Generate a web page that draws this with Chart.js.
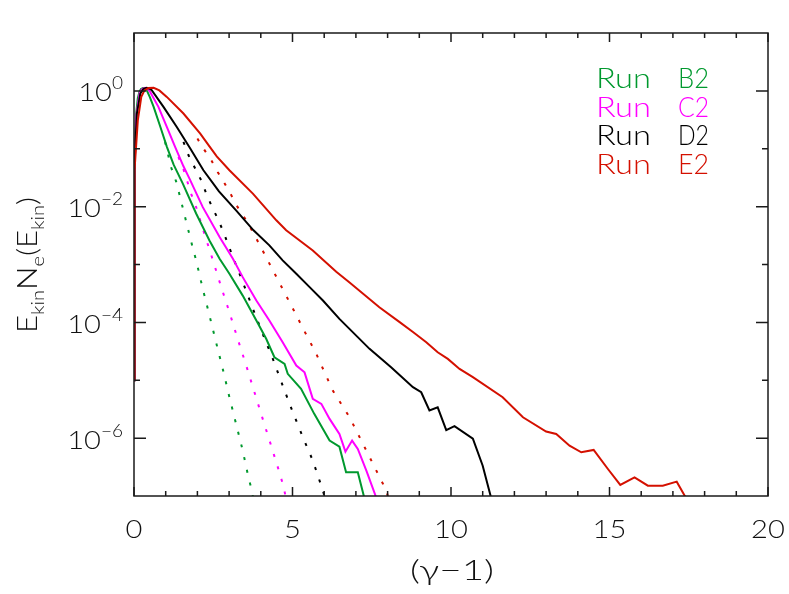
<!DOCTYPE html>
<html><head><meta charset="utf-8">
<script src="https://cdn.jsdelivr.net/npm/chart.js@4"></script>
<style>html,body{margin:0;padding:0;background:#fff;}#wrap{width:789px;height:594px;}</style>
</head><body><div id="wrap"><canvas id="c" width="789" height="594"></canvas></div>
<script>
// ---- data (x = gamma-1, y = E_kin N_e(E_kin)) ----
const runB2 = [[0,1e-5],[0.015,0.07],[0.07,0.41],[0.12,0.75],[0.17,0.96],[0.22,1.08],[0.28,1.12],[0.34,1.09],[0.40,1.03],[0.50,0.78],[0.62,0.53],[0.83,0.24],[1.04,0.107],[1.25,0.053],[1.54,0.025],[1.96,7.6e-3],[2.38,2.6e-3],[2.70,1.26e-3],[3.01,6.9e-4],[3.43,2.9e-4],[3.86,1.08e-4],[4.17,5.2e-5],[4.43,2.5e-5],[4.75,1.92e-5],[4.85,1.29e-5],[5.27,7.1e-6],[5.69,2.6e-6],[6.17,9.1e-7],[6.48,7.1e-7],[6.69,2.56e-7],[7.06,2.56e-7],[7.25,1.0e-7],[7.31,5e-8]];
const runC2 = [[0,1e-5],[0.015,0.06],[0.08,0.4],[0.18,0.92],[0.26,1.08],[0.35,1.13],[0.43,1.08],[0.51,0.96],[0.77,0.53],[1.035,0.238],[1.30,0.107],[1.56,0.0498],[1.75,0.0305],[2.17,9.8e-3],[2.70,2.98e-3],[3.12,1.26e-3],[3.43,6.05e-4],[3.86,2.39e-4],[4.27,1.08e-4],[4.69,4.54e-5],[5.12,1.8e-5],[5.38,1.37e-5],[5.64,4.77e-6],[5.91,3.91e-6],[6.17,2.15e-6],[6.48,1.18e-6],[6.67,5.84e-7],[6.88,9.06e-7],[7.06,6.5e-7],[7.33,2.74e-7],[7.62,1.01e-7],[7.68,6.8e-8]];
const runD2 = [[0,1e-5],[0.015,0.05],[0.09,0.4],[0.2,0.9],[0.30,1.08],[0.40,1.13],[0.48,1.1],[0.56,1.03],[0.93,0.529],[1.35,0.238],[1.77,0.102],[2.19,0.0425],[2.68,0.0184],[3.22,8.6e-3],[3.77,3.9e-3],[4.27,2.14e-3],[4.69,1.18e-3],[5.12,6.9e-4],[5.54,4.07e-4],[5.96,2.39e-4],[6.48,1.15e-4],[7.43,3.49e-5],[8.11,1.68e-5],[8.80,7.6e-6],[9.06,6.2e-6],[9.32,3.0e-6],[9.58,3.4e-6],[9.85,1.37e-6],[10.11,1.61e-6],[10.69,9.8e-7],[11.00,3.34e-7],[11.25,1.0e-7],[11.31,6.8e-8]];
const runE2 = [[0,1e-5],[0.016,0.042],[0.12,0.31],[0.23,0.79],[0.33,1.02],[0.45,1.12],[0.62,1.13],[0.80,1.02],[1.035,0.787],[1.56,0.406],[2.09,0.183],[2.38,0.11],[2.61,0.074],[3.01,0.0425],[3.75,0.0168],[4.49,5.8e-3],[4.80,3.9e-3],[5.64,1.75e-3],[6.38,7.5e-4],[6.80,4.9e-4],[7.74,1.83e-4],[8.38,1.01e-4],[8.80,6.8e-5],[9.22,4.54e-5],[9.58,3.05e-5],[9.90,2.34e-5],[10.27,1.57e-5],[10.69,1.13e-5],[11.63,5.08e-6],[12.27,2.29e-6],[13.00,1.30e-6],[13.32,1.18e-6],[13.74,7.4e-7],[14.11,5.7e-7],[14.50,6.25e-7],[14.95,2.93e-7],[15.34,1.55e-7],[15.79,2.10e-7],[16.21,1.51e-7],[16.68,1.51e-7],[17.12,1.77e-7],[17.40,9.5e-8],[17.46,6.8e-8]];
const fitB2 = [[0.98,0.131],[1.17,0.048],[1.33,0.027],[1.44,0.0157],[1.65,5.4e-3],[1.86,1.88e-3],[1.96,1.18e-3],[2.17,3.8e-4],[2.38,1.32e-4],[2.59,4.5e-5],[2.80,1.57e-5],[3.01,5.1e-6],[3.22,1.76e-6],[3.43,6.1e-7],[3.61,2.1e-7],[3.72,1.24e-7],[3.79,7e-8]];
const fitC2 = [[1.40,0.072],[1.54,0.048],[1.67,0.0285],[1.80,0.0168],[1.96,9.8e-3],[2.22,3.4e-3],[2.49,1.18e-3],[2.75,4.1e-4],[3.01,1.5e-4],[3.27,5.2e-5],[3.54,1.8e-5],[3.80,6.2e-6],[4.06,2.15e-6],[4.31,7.9e-7],[4.57,2.74e-7],[4.71,1.51e-7],[4.84,7e-8]];
const fitD2 = [[1.56,0.131],[1.72,0.077],[1.91,0.048],[2.12,0.0285],[2.28,0.0168],[2.44,0.0105],[2.64,6.2e-3],[2.80,3.9e-3],[2.96,2.3e-3],[3.12,1.34e-3],[3.43,5.0e-4],[3.75,1.72e-4],[4.06,6.35e-5],[4.38,2.34e-5],[4.69,8.1e-6],[5.01,2.8e-6],[5.33,1.03e-6],[5.64,4.1e-7],[5.96,1.24e-7],[6.08,7e-8]];
const fitE2 = [[2.0,0.15],[2.19,0.101],[2.44,0.0632],[2.64,0.0397],[2.86,0.025],[3.07,0.0157],[3.27,9.8e-3],[3.54,5.8e-3],[3.75,3.64e-3],[4.17,1.33e-3],[4.59,4.8e-4],[5.01,1.74e-4],[5.38,7.0e-5],[5.75,2.86e-5],[6.27,6.64e-6],[6.80,2.29e-6],[7.33,6.08e-7],[7.96,1.24e-7],[8.08,7e-8]];

const runNames = ['Run', 'Run', 'Run', 'Run'];
const runCodes = ['B2', 'C2', 'D2', 'E2'];
const runColors = ['#00992e', '#ff00ff', '#000000', '#d41000'];

const xMajorTicks = [0, 5, 10, 15, 20];
const xMinorTicks = [1,2,3,4,6,7,8,9,11,12,13,14,16,17,18,19];
const yLabelExps = [0, -2, -4, -6];
const yMinorExps = [-1, -3, -5];
const xTitle = '(\u03b3\u22121)';

const FONT = '"Lato","DejaVu Sans",sans-serif';
const toPts = a => a.map(p => ({x: p[0], y: p[1]}));

const solids = [runB2, runC2, runD2, runE2];
const fits = [fitB2, fitC2, fitD2, fitE2];
const datasets = [];
solids.forEach((d, i) => datasets.push({
  label: runNames[i] + ' ' + runCodes[i], data: toPts(d), borderColor: runColors[i],
  borderWidth: 2, pointRadius: 0, tension: 0, fill: false, clip: 0, order: 4 - i
}));
fits.forEach((d, i) => datasets.push({
  label: 'fit ' + runCodes[i], data: toPts(d), borderColor: runColors[i],
  borderWidth: 2, borderDash: [3, 10], pointRadius: 0, tension: 0, fill: false, clip: 0, order: 10
}));

function drawParts(ctx, parts, x, y) {
  let cx = x;
  parts.forEach(p => {
    ctx.font = '300 ' + p[1] + 'px ' + FONT;
    ctx.fillText(p[0], cx, y + p[2]);
    cx += ctx.measureText(p[0]).width;
  });
  return cx - x;
}
function measureParts(ctx, parts) {
  let w = 0;
  parts.forEach(p => { ctx.font = '300 ' + p[1] + 'px ' + FONT; w += ctx.measureText(p[0]).width; });
  return w;
}
function fitText(ctx, t, x, y, w) {
  const m = ctx.measureText(t).width;
  ctx.save(); ctx.translate(x, y); ctx.scale(w / m, 1); ctx.fillText(t, 0, 0); ctx.restore();
}

const framePlugin = {
  id: 'frame',
  afterDatasetsDraw(chart) {
    const {ctx, chartArea: a, scales: {x, y}} = chart;
    ctx.save();
    ctx.strokeStyle = '#1a1a1a';
    ctx.lineWidth = 1.5;
    ctx.strokeRect(a.left, a.top, a.right - a.left, a.bottom - a.top);
    ctx.beginPath();
    const xt = (v, len) => { const p = x.getPixelForValue(v);
      ctx.moveTo(p, a.bottom); ctx.lineTo(p, a.bottom - len);
      ctx.moveTo(p, a.top); ctx.lineTo(p, a.top + len); };
    xMajorTicks.forEach(v => xt(v, 9));
    xMinorTicks.forEach(v => xt(v, 5));
    const yt = (e, len) => { const p = y.getPixelForValue(Math.pow(10, e));
      ctx.moveTo(a.left, p); ctx.lineTo(a.left + len, p);
      ctx.moveTo(a.right, p); ctx.lineTo(a.right - len, p); };
    yLabelExps.forEach(e => yt(e, 12));
    yMinorExps.forEach(e => yt(e, 6));
    ctx.stroke();

    ctx.fillStyle = '#111';
    ctx.textBaseline = 'alphabetic';
    // x tick labels
    ctx.textAlign = 'center';
    ctx.font = '300 26px ' + FONT;
    xMajorTicks.forEach(v => {
      ctx.save();
      ctx.translate(x.getPixelForValue(v), 538);
      ctx.scale(1.12, 1);
      ctx.fillText(String(v), 0, 0);
      ctx.restore();
    });
    // y tick labels 10^e
    ctx.textAlign = 'left';
    yLabelExps.forEach(e => {
      const p = y.getPixelForValue(Math.pow(10, e));
      const expT = e === 0 ? '0' : '\u2212' + Math.abs(e);
      const parts = [['10', 26, 0], [expT, 17, -12]];
      const w = measureParts(ctx, parts) * 1.12;
      ctx.save();
      ctx.translate(123 - w, p + 10.5);
      ctx.scale(1.12, 1);
      drawParts(ctx, parts, 0, 0);
      ctx.restore();
    });
    // x title
    ctx.save();
    ctx.font = '300 28px ' + FONT;
    const xw = ctx.measureText(xTitle).width;
    ctx.translate(452, 580);
    ctx.scale(84 / xw, 1);
    ctx.textAlign = 'center';
    ctx.fillText(xTitle, 0, 0);
    ctx.restore();
    // y title
    ctx.save();
    const yParts = [['E', 28, 0], ['kin', 18, 7], ['N', 28, 0], ['e', 18, 7], ['(E', 28, 0], ['kin', 18, 7], [')', 28, 0]];
    const yw = measureParts(ctx, yParts);
    ctx.translate(37, 265);
    ctx.rotate(-Math.PI / 2);
    ctx.scale(136 / yw, 1);
    ctx.textAlign = 'left';
    drawParts(ctx, yParts, -yw / 2, 0);
    ctx.restore();
    // legend
    ctx.font = '300 27px ' + FONT;
    ctx.textAlign = 'left';
    const base = [88, 116.5, 145, 174];
    runCodes.forEach((c, i) => {
      ctx.fillStyle = runColors[i];
      fitText(ctx, runNames[i], 596, base[i], 55);
      fitText(ctx, c, 678, base[i], 31);
    });
    ctx.restore();
  }
};

new Chart(document.getElementById('c'), {
  type: 'line',
  data: { datasets },
  options: {
    responsive: false, animation: false, devicePixelRatio: 1,
    layout: { padding: { left: 134, right: 21, top: 33, bottom: 98 } },
    plugins: { legend: { display: false }, tooltip: { enabled: false } },
    scales: {
      x: { type: 'linear', min: 0, max: 20, display: false },
      y: { type: 'logarithmic', min: 1e-7, max: 10, display: false }
    }
  },
  plugins: [framePlugin]
});
</script></body></html>
